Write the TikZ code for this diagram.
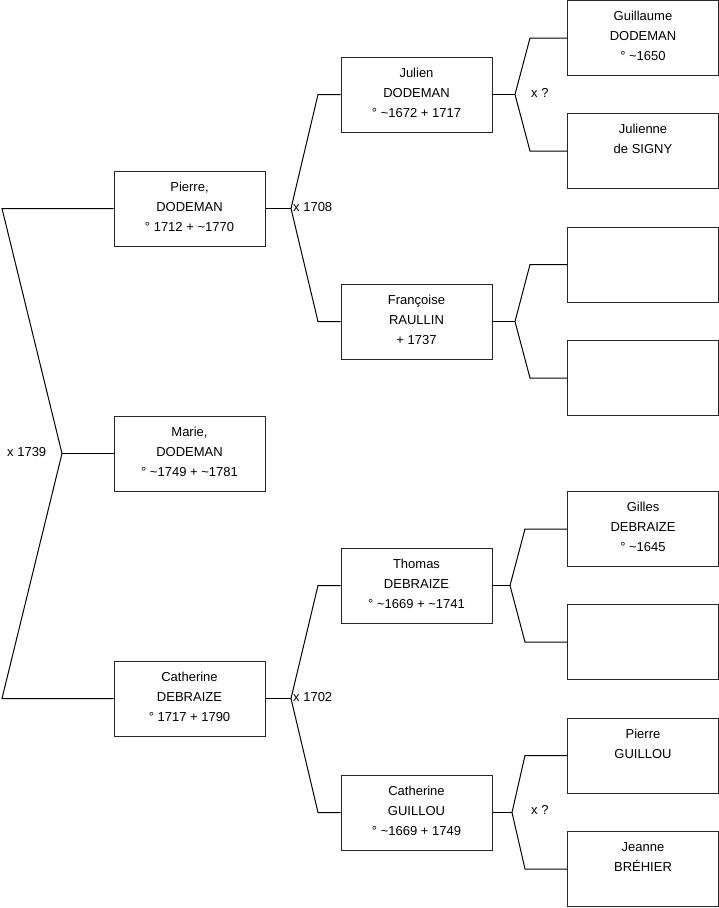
\documentclass[tikz,border=0pt]{standalone}
\usepackage{fontspec}
\setmainfont{Liberation Sans}
\begin{document}
\begin{tikzpicture}[x=1pt,y=-1pt,
  box/.style={draw=black!85, line width=1pt, minimum width=151pt, minimum height=75pt, inner sep=0pt},
  txt/.style={anchor=north, inner sep=0pt, align=center, font=\fontsize{13}{20}\selectfont},
  lbl/.style={inner sep=0pt, font=\fontsize{13}{20}\selectfont},
  conn/.style={line width=1pt, draw=black}]
\useasboundingbox (0,0) rectangle (719,908);
% column 1
\node[box] (p1) at (189.5,208.5) {};
\node[txt] (p1t) at (p1.north) {\rule{0pt}{20.6pt}Pierre,\\DODEMAN\\° 1712 + \textasciitilde1770};
\node[box] (m1) at (189.5,453.5) {};
\node[txt] (m1t) at (m1.north) {\rule{0pt}{20.6pt}Marie,\\DODEMAN\\° \textasciitilde1749 + \textasciitilde1781};
\node[box] (c1) at (189.5,698.5) {};
\node[txt] (c1t) at (c1.north) {\rule{0pt}{20.6pt}Catherine\\DEBRAIZE\\° 1717 + 1790};
% column 2
\node[box] (jul) at (416.5,94.5) {};
\node[txt] (jult) at (jul.north) {\rule{0pt}{20.6pt}Julien\\DODEMAN\\° \textasciitilde1672 + 1717};
\node[box] (fra) at (416.5,321.5) {};
\node[txt] (frat) at (fra.north) {\rule{0pt}{20.6pt}Françoise\\RAULLIN\\+ 1737};
\node[box] (tho) at (416.5,585.5) {};
\node[txt] (thot) at (tho.north) {\rule{0pt}{20.6pt}Thomas\\DEBRAIZE\\° \textasciitilde1669 + \textasciitilde1741};
\node[box] (cag) at (416.5,812.5) {};
\node[txt] (cagt) at (cag.north) {\rule{0pt}{20.6pt}Catherine\\GUILLOU\\° \textasciitilde1669 + 1749};
% column 3
\node[box] (gui) at (643,38) {};
\node[txt] (guit) at (gui.north) {\rule{0pt}{20.6pt}Guillaume\\DODEMAN\\° \textasciitilde1650};
\node[box] (jue) at (643,151) {};
\node[txt] (juet) at (jue.north) {\rule{0pt}{20.6pt}Julienne\\de SIGNY};
\node[box] (e1) at (643,264.5) {};
\node[box] (e2) at (643,378) {};
\node[box] (gil) at (643,529) {};
\node[txt] (gilt) at (gil.north) {\rule{0pt}{20.6pt}Gilles\\DEBRAIZE\\° \textasciitilde1645};
\node[box] (e3) at (643,642) {};
\node[box] (pig) at (643,755.5) {};
\node[txt] (pigt) at (pig.north) {\rule{0pt}{20.6pt}Pierre\\GUILLOU};
\node[box] (jea) at (643,869) {};
\node[txt] (jeat) at (jea.north) {\rule{0pt}{20.6pt}Jeanne\\BRÉHIER};
% fork 0
\coordinate (a0) at (2,208.5);
\coordinate (f0) at (62,453.5);
\coordinate (b0) at (2,698.5);
\draw[conn] (p1.west) -- (a0) -- (f0) -- (b0) -- (c1.west);
\draw[conn] (f0) -- (m1.west);
\node[lbl, anchor=west] (l0) at (7,452) {x 1739};
% fork 1
\coordinate (j1) at (291,208.5);
\coordinate (u1) at (318,94.5);
\coordinate (d1) at (318,321.5);
\draw[conn] (p1.east) -- (j1);
\draw[conn] (jul.west) -- (u1) -- (j1) -- (d1) -- (fra.west);
\node[lbl, anchor=west] (l1) at (293,207) {x 1708};
% fork 2
\coordinate (j2) at (515,94.5);
\coordinate (u2) at (530,38);
\coordinate (d2) at (530,151);
\draw[conn] (jul.east) -- (j2);
\draw[conn] (gui.west) -- (u2) -- (j2) -- (d2) -- (jue.west);
\node[lbl, anchor=west] (l2) at (531,93) {x ?};
% fork 3
\coordinate (j3) at (515,321.5);
\coordinate (u3) at (530,264.5);
\coordinate (d3) at (530,378);
\draw[conn] (fra.east) -- (j3);
\draw[conn] (e1.west) -- (u3) -- (j3) -- (d3) -- (e2.west);
% fork 4
\coordinate (j4) at (291,698.5);
\coordinate (u4) at (318,585.5);
\coordinate (d4) at (318,812.5);
\draw[conn] (c1.east) -- (j4);
\draw[conn] (tho.west) -- (u4) -- (j4) -- (d4) -- (cag.west);
\node[lbl, anchor=west] (l4) at (293,697) {x 1702};
% fork 5
\coordinate (j5) at (510,585.5);
\coordinate (u5) at (525,529);
\coordinate (d5) at (525,642);
\draw[conn] (tho.east) -- (j5);
\draw[conn] (gil.west) -- (u5) -- (j5) -- (d5) -- (e3.west);
% fork 6
\coordinate (j6) at (512,812.5);
\coordinate (u6) at (525,755.5);
\coordinate (d6) at (525,869);
\draw[conn] (cag.east) -- (j6);
\draw[conn] (pig.west) -- (u6) -- (j6) -- (d6) -- (jea.west);
\node[lbl, anchor=west] (l6) at (531,810) {x ?};
\end{tikzpicture}
\end{document}
